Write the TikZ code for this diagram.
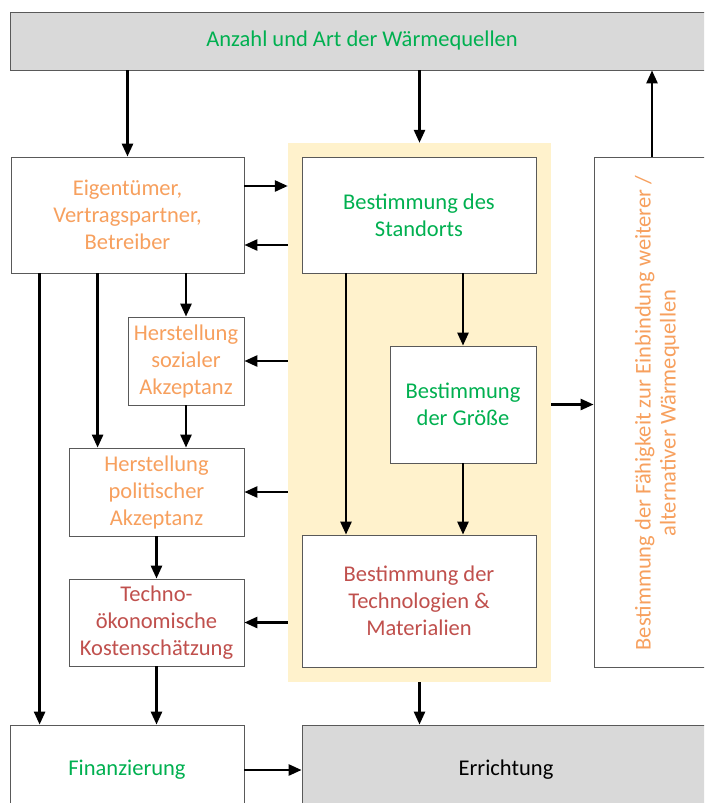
\documentclass[tikz,border=0pt]{standalone}
\usepackage{fontspec}
\setmainfont{Carlito}
\usetikzlibrary{arrows.meta}

\definecolor{gruen}{RGB}{0,176,80}
\definecolor{orange}{RGB}{247,160,94}
\definecolor{rot}{RGB}{192,80,77}
\definecolor{grau}{RGB}{217,217,217}
\definecolor{gelb}{RGB}{255,242,204}
\definecolor{rahmen}{RGB}{89,89,89}

\tikzset{
  box/.style={draw=rahmen, fill=white, line width=0.8pt, align=center, inner sep=2pt,
    font=\fontsize{22.5}{27}\selectfont},
  pfeil/.style={-{Triangle[length=13pt,width=11pt]}, line width=2.6pt},
}

\begin{document}
\begin{tikzpicture}[x=1pt,y=1pt,yscale=-1]
\useasboundingbox (0,0) rectangle (704,803);
\clip (0,0) rectangle (704,803);

% Phase (Hintergrund)
\node [fill=gelb, minimum width=263, minimum height=539] (phase) at (419.5,412.5) {};

% Kaesten
\node [box, fill=grau, text=gruen, minimum width=704, minimum height=58] (top) at (362,41) {Anzahl und Art der Wärmequellen};
\node [box, text=orange, minimum width=233, minimum height=116] (eig) at (127.5,215) {Eigentümer,\\Vertragspartner,\\Betreiber};
\node [box, text=gruen, minimum width=234, minimum height=116] (standort) at (419,215) {Bestimmung des\\Standorts};
\node [box, text=orange, minimum width=116, minimum height=88] (sozial) at (186,361) {Herstellung\\sozialer\\Akzeptanz};
\node [box, text=gruen, minimum width=146, minimum height=117] (groesse) at (463,404.5) {Bestimmung\\der Größe};
\node [box, text=orange, minimum width=175, minimum height=88] (polit) at (156.5,492) {Herstellung\\politischer\\Akzeptanz};
\node [box, text=rot, minimum width=175, minimum height=87] (techno) at (156.5,622.5) {Techno-\\ökonomische\\Kostenschätzung};
\node [box, text=rot, minimum width=234, minimum height=132] (tech) at (419,601) {Bestimmung der\\Technologien \&\\Materialien};
\node [box, text=gruen, minimum width=234, minimum height=90] (fin) at (127,770) {Finanzierung};
\node [box, fill=grau, minimum width=408, minimum height=90] (err) at (506,770) {Errichtung};
\node [box, minimum width=116, minimum height=510] (rechts) at (652,412) {};
\node [text=orange, rotate=90, align=center, font=\fontsize{22.5}{25}\selectfont] (rechtstext) at (657,413)
  {Bestimmung der Fähigkeit zur Einbindung weiterer /\\alternativer Wärmequellen};

% Pfeile
\draw [pfeil] (top.south -| eig.north) -- (eig.north);
\draw [pfeil] (top.south -| phase.north) -- (phase.north);
\draw [pfeil] (rechts.north) -- (rechts.north |- top.south);
\draw [pfeil] ([yshift=-29pt]eig.east) -- ([yshift=-29pt]eig.east -| phase.west);
\draw [pfeil] ([yshift=30pt]eig.east -| phase.west) -- ([yshift=30pt]eig.east);
\draw [pfeil] ([xshift=-73pt]standort.south) -- ([xshift=-73pt]tech.north);
\draw [pfeil] (standort.south -| groesse.north) -- (groesse.north);
\draw [pfeil] (groesse.south) -- (groesse.south |- tech.north);
\draw [pfeil] (phase.east |- groesse.east) -- (rechts.west |- groesse.east);
\draw [pfeil] (phase.south) -- (phase.south |- err.north);
\draw [pfeil] (fin.east) -- (err.west);
\draw [pfeil] ([xshift=29pt]eig.south west) -- ([xshift=29pt]eig.south west |- fin.north);
\draw [pfeil] ([xshift=87pt]eig.south west) -- ([xshift=87pt]eig.south west |- polit.north);
\draw [pfeil] (eig.south -| sozial.north) -- (sozial.north);
\draw [pfeil] (phase.west |- sozial.east) -- (sozial.east);
\draw [pfeil] (sozial.south) -- (sozial.south |- polit.north);
\draw [pfeil] (phase.west |- polit.east) -- (polit.east);
\draw [pfeil] (polit.south) -- (techno.north);
\draw [pfeil] (phase.west |- techno.east) -- (techno.east);
\draw [pfeil] (techno.south) -- (techno.south |- fin.north);

\end{tikzpicture}
\end{document}
